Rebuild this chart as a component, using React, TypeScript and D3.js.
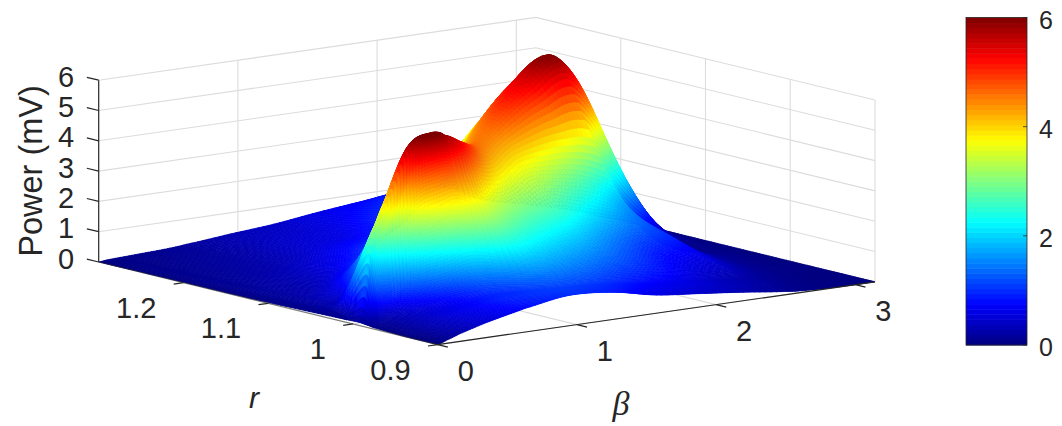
import { useRef, useEffect } from "react";

import * as d3 from "d3";

// beta values of the columns the surface was read on
const betaValues = [0, 0.063, 0.157, 0.314, 0.471, 0.628, 0.942, 1.257, 1.571, 1.885, 2.199, 2.513, 2.67, 2.827, 2.985, 3.1416];

// where each column's profile starts to climb, tops out and finishes falling (r)
const rFoot = [0.972, 0.976, 0.976, 0.97, 0.962, 0.95, 0.924, 0.924, 0.932, 0.94, 0.948, 0.96, 0.96, 0.96, 0.96, 0.96];
const rCrest = [0.992, 0.992, 0.99, 0.988, 0.988, 1.0, 1.028, 1.065, 1.104, 1.132, 1.156, 1.172, 1.172, 1.168, 1.164, 1.164];
const rBack = [1.02, 1.06, 1.068, 1.08, 1.088, 1.1, 1.124, 1.156, 1.192, 1.22, 1.24, 1.252, 1.252, 1.252, 1.252, 1.252];

// power in mV at: r=0.9, half way to foot, foot, wall 1/3, wall 2/3, crest,
// half way down, back, then two points on to r=1.3 and r=1.3 itself
const powerByBeta = [
  [0, 0, 0.04, 0.06, 0.08, 0.1, 0.09, 0.08, 0.02, 0.01, 0],
  [0.1, 0.14, 0.18, 0.8, 1.8, 2.6, 0.5, 0.2, 0.12, 0.08, 0.03],
  [0.25, 0.32, 0.4, 1.3, 2.8, 3.9, 0.9, 0.35, 0.18, 0.1, 0.05],
  [0.45, 0.55, 0.7, 2.3, 4.4, 5.7, 2.0, 0.5, 0.25, 0.14, 0.08],
  [0.62, 0.72, 0.9, 2.6, 4.8, 6.05, 3.2, 0.8, 0.32, 0.19, 0.11],
  [0.78, 0.95, 1.15, 2.9, 4.7, 5.8, 3.1, 1.0, 0.42, 0.24, 0.17],
  [1.0, 1.1, 1.2, 2.3, 3.6, 5.2, 3.2, 1.3, 0.62, 0.42, 0.3],
  [0.9, 1.0, 1.15, 2.05, 3.3, 4.65, 2.9, 1.25, 0.7, 0.52, 0.42],
  [0.6, 0.75, 0.95, 1.9, 3.4, 4.6, 3.1, 1.3, 0.95, 0.72, 0.6],
  [0.44, 0.58, 0.75, 1.5, 3.1, 5.0, 3.7, 1.9, 1.25, 0.95, 0.75],
  [0.28, 0.38, 0.48, 1.1, 2.7, 5.4, 4.3, 2.2, 1.6, 1.15, 0.9],
  [0.1, 0.2, 0.3, 0.9, 2.0, 5.9, 4.6, 2.3, 1.5, 1.05, 0.8],
  [0.04, 0.09, 0.15, 0.4, 0.85, 5.0, 3.8, 1.6, 1.0, 0.6, 0.4],
  [0.01, 0.03, 0.06, 0.15, 0.35, 2.8, 2.0, 0.8, 0.4, 0.25, 0.15],
  [0, 0.01, 0.02, 0.05, 0.1, 0.55, 0.4, 0.2, 0.1, 0.06, 0.04],
  [0, 0, 0, 0, 0, 0, 0, 0, 0, 0, 0],
];

const betaTicks = [0, 1, 2, 3];
const rTicks = [0.9, 1, 1.1, 1.2];
const zTicks = [0, 1, 2, 3, 4, 5, 6];
const colorbarTicks = [0, 2, 4, 6];

const jetStops = [0, 0.75, 2.25, 3.75, 5.25, 6];
const jetColors = ["#00007f", "#0000ff", "#00ffff", "#ffff00", "#ff0000", "#7f0000"];

const width = 1062;
const height = 426;
const betaMax = Math.PI;
const rMin = 0.9;
const rMax = 1.3;
const uSteps = 18;
const vSteps = 8;
const textColor = "#262626";
const gridColor = "#dcdcdc";
const sansFont = "'Liberation Sans', Arial, sans-serif";

// the plot box is orthographic: each data axis moves the screen point linearly
const originX = 98.7;
const originY = 262;
const betaX = d3.scaleLinear().domain([0, betaMax]).range([0, 437.3]);
const betaY = d3.scaleLinear().domain([0, betaMax]).range([0, -62.8]);
const rX = d3.scaleLinear().domain([rMax, rMin]).range([0, 339]);
const rY = d3.scaleLinear().domain([rMax, rMin]).range([0, 82.6]);
const zY = d3.scaleLinear().domain([0, 6]).range([0, -181.8]);

const project = (beta: number, r: number, z: number): [number, number] => [
  originX + betaX(beta) + rX(r),
  originY + betaY(beta) + rY(r) + zY(z),
];

const jet = d3.scaleLinear<string>().domain(jetStops).range(jetColors).clamp(true);

// r of every profile point in every column
const rKnots = betaValues.map((_, j) => [
  rMin,
  (rMin + rFoot[j]) / 2,
  rFoot[j],
  rFoot[j] + (rCrest[j] - rFoot[j]) / 3,
  rFoot[j] + ((rCrest[j] - rFoot[j]) * 2) / 3,
  rCrest[j],
  (rCrest[j] + rBack[j]) / 2,
  rBack[j],
  rBack[j] + (rMax - rBack[j]) / 3,
  rBack[j] + ((rMax - rBack[j]) * 2) / 3,
  rMax,
]);

const catmull = (a: number, b: number, c: number, d: number, s: number) =>
  0.5 * (2 * b + (c - a) * s + (2 * a - 5 * b + 4 * c - d) * s * s + (3 * b - a - 3 * c + d) * s * s * s);

// smooth drawing through the values
const smooth = (table: number[][], v: number, u: number) => {
  const j = Math.min(Math.floor(v), table.length - 2);
  const i = Math.min(Math.floor(u), table[0].length - 2);
  const col = (k: number) => table[Math.max(0, Math.min(table.length - 1, k))];
  const along = (c: number[]) => {
    const pick = (k: number) => c[Math.max(0, Math.min(c.length - 1, k))];
    return catmull(pick(i - 1), pick(i), pick(i + 1), pick(i + 2), u - i);
  };
  return catmull(along(col(j - 1)), along(col(j)), along(col(j + 1)), along(col(j + 2)), v - j);
};

const App = () => {
  const svgRef = useRef<SVGSVGElement>(null);

  useEffect(() => {
    const svg = d3.select(svgRef.current);
    svg.selectAll("*").remove();

    const line = d3.line();

    // back walls and floor grid
    const grid = svg.append("g").attr("fill", "none").attr("stroke", gridColor).attr("stroke-width", 1.1);
    zTicks.forEach((z) => {
      grid.append("path").attr("d", line([project(0, rMax, z), project(betaMax, rMax, z), project(betaMax, rMin, z)]));
    });
    betaTicks.slice(1).forEach((b) => {
      grid.append("path").attr("d", line([project(b, rMin, 0), project(b, rMax, 0), project(b, rMax, 6)]));
    });
    rTicks.forEach((r) => {
      grid.append("path").attr("d", line([project(0, r, 0), project(betaMax, r, 0), project(betaMax, r, 6)]));
    });

    // surface cells, far to near
    const vScale = d3.scaleLinear().domain(d3.range(betaValues.length)).range(betaValues);
    const knotCount = rKnots[0].length;
    const uCount = (knotCount - 1) * uSteps;
    const vCount = (betaValues.length - 1) * vSteps;
    const nodes = d3.range(vCount + 1).map((iv) =>
      d3.range(uCount + 1).map((iu) => {
        const v = iv / vSteps;
        const u = iu / uSteps;
        const beta = vScale(v);
        const r = Math.max(rMin, Math.min(rMax, smooth(rKnots, v, u)));
        const z = Math.max(0, smooth(powerByBeta, v, u));
        return { z, point: project(beta, r, z), floor: project(beta, r, 0)[1] };
      })
    );
    const cells: { d: string | null; fill: string; depth: number }[] = [];
    for (let iv = 0; iv < vCount; iv++) {
      for (let iu = 0; iu < uCount; iu++) {
        const corners = [nodes[iv][iu], nodes[iv][iu + 1], nodes[iv + 1][iu + 1], nodes[iv + 1][iu]];
        cells.push({
          d: line(corners.map((c) => c.point)) + "Z",
          fill: jet(d3.mean(corners, (c) => c.z) as number),
          depth: d3.mean(corners, (c) => c.floor) as number,
        });
      }
    }
    cells.sort((a, b) => a.depth - b.depth);
    svg
      .append("g")
      .selectAll("path")
      .data(cells)
      .enter()
      .append("path")
      .attr("d", (d) => d.d)
      .attr("fill", (d) => d.fill)
      .attr("stroke", (d) => d.fill)
      .attr("stroke-width", 0.6)
      .attr("stroke-linejoin", "round");

    // axis lines and ticks
    const axes = svg.append("g").attr("fill", "none").attr("stroke", textColor).attr("stroke-width", 1.2);
    axes.append("path").attr("d", line([project(0, rMax, 0), project(0, rMax, 6)]));
    axes.append("path").attr("d", line([project(0, rMin, 0), project(betaMax, rMin, 0)]));
    axes.append("path").attr("d", line([project(0, rMax, 0), project(0, rMin, 0)])).attr("stroke-opacity", 0.6);
    zTicks.forEach((z) => {
      axes.append("path").attr("d", line([project(0, rMax, z), project(0, rMax + 0.014, z)]));
    });
    betaTicks.forEach((b) => {
      axes.append("path").attr("d", line([project(b, rMin, 0), project(b, rMin - 0.012, 0)]));
    });
    rTicks.forEach((r) => {
      axes.append("path").attr("d", line([project(0, r, 0), project(-0.07, r, 0)]));
    });

    const label = (x: number, y: number, text: string, size: number) =>
      svg
        .append("text")
        .attr("x", x)
        .attr("y", y)
        .attr("text-anchor", "middle")
        .attr("dominant-baseline", "central")
        .attr("font-family", sansFont)
        .attr("font-size", size)
        .attr("fill", textColor)
        .text(text);

    zTicks.forEach((z) => {
      label(66, project(0, rMax, z)[1] - 3.5, String(z), 29);
    });
    rTicks.forEach((r) => {
      const [x, y] = project(0, r, 0);
      label(x - 27, y + 25, String(r), 29).attr("text-anchor", "end");
    });
    betaTicks.forEach((b) => {
      const [x, y] = project(b, rMin, 0);
      label(x + 28, y + 26, String(b), 29);
    });
    label(31, 171, "Power (mV)", 32.5).attr("transform", "rotate(-90 31 171)");
    label(254, 397, "r", 30).attr("font-style", "italic");
    label(621, 403, "β", 34).attr("font-style", "italic").attr("font-family", "'Liberation Serif', serif");

    // colorbar
    const barY = d3.scaleLinear().domain([0, 6]).range([345, 17.5]);
    const bands = d3.range(0, 6, 6 / 64);
    svg
      .append("g")
      .selectAll("rect")
      .data(bands)
      .enter()
      .append("rect")
      .attr("x", 966)
      .attr("width", 61)
      .attr("y", (d) => barY(d + 6 / 64))
      .attr("height", (d) => barY(d) - barY(d + 6 / 64) + 0.5)
      .attr("fill", (d) => jet(d + 3 / 64));
    svg
      .append("rect")
      .attr("x", 966)
      .attr("y", barY(6))
      .attr("width", 61)
      .attr("height", barY(0) - barY(6))
      .attr("fill", "none")
      .attr("stroke", textColor)
      .attr("stroke-width", 0.8);
    colorbarTicks.forEach((t) => {
      svg
        .append("line")
        .attr("x1", 1023)
        .attr("x2", 1027)
        .attr("y1", barY(t))
        .attr("y2", barY(t))
        .attr("stroke", textColor)
        .attr("stroke-width", 0.8);
      label(1046, barY(t) + 2, String(t), 25);
    });
  }, []);

  return <svg ref={svgRef} width={width} height={height} style={{ position: "absolute", left: 0, top: 0 }} />;
};

export default App;
